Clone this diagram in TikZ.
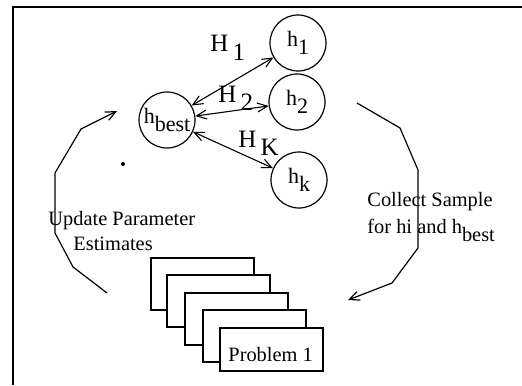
\documentclass[tikz,border=0pt]{standalone}
\usepackage{fontspec}
\setmainfont{Liberation Serif}
\usetikzlibrary{arrows.meta}
\newcommand\lowr[2]{\raisebox{-#1}{#2}}
\begin{document}
\begin{tikzpicture}[x=0.5pt,y=-0.5pt,
  circ/.style={circle,draw,minimum size=28pt,inner sep=0pt,line width=0.6pt,font=\fontsize{11}{13}\selectfont},
  txt/.style={inner sep=0pt,anchor=base west,font=\fontsize{10.2}{12.5}\selectfont},
  biglbl/.style={inner sep=0pt,anchor=base west,font=\fontsize{12.5}{14}\selectfont},
  page/.style={draw,fill=white,line width=0.7pt,inner sep=0pt,outer sep=0pt,anchor=north west,minimum width=51.5pt,minimum height=26pt},
  dbl/.style={line width=0.55pt,{Straight Barb[length=5pt,width=4.5pt]}-{Straight Barb[length=5pt,width=4.5pt]}},
  flow/.style={line width=0.6pt,-{Straight Barb[length=5pt,width=4.5pt]}},
  frame/.style={line width=0.9pt}
]
\useasboundingbox (0,0) rectangle (522,385);
% frame
\coordinate (fr1) at (522,7);
\coordinate (fr2) at (13,7);
\coordinate (fr3) at (13,385);
\draw[frame] (fr1) -- (fr2) -- (fr3);

% circles
\node[circ] (hbest) at (167,120) {h\lowr{0.4em}{best}};
\node[circ] (h1) at (298,43) {h\lowr{0.35em}{1}};
\node[circ] (h2) at (297,102) {h\lowr{0.35em}{2}};
\node[circ] (hk) at (299,180) {h\lowr{0.35em}{k}};

% double arrows
\draw[dbl] (hbest) -- (h1);
\draw[dbl] (hbest) -- (h2);
\draw[dbl] (hbest) -- (hk);

% arrow labels
\node[biglbl] (L1) at (210,52) {H\,\lowr{0.35em}{1}};
\node[biglbl] (L2) at (218,102) {H\,\lowr{0.35em}{2}};
\node[biglbl] (LK) at (238,147) {H\,\lowr{0.35em}{K}};

% small dot
\fill (123,164) circle (1pt);

% left loop arrow
\coordinate (a1) at (107,293);
\coordinate (a2) at (73,267);
\coordinate (a3) at (55,233);
\coordinate (a4) at (55,173);
\coordinate (a5) at (81,129);
\coordinate (a6) at (117,111);
\draw[flow] (a1) -- (a2) -- (a3) -- (a4) -- (a5) -- (a6);

% right loop arrow
\coordinate (b1) at (357,103);
\coordinate (b2) at (400,128);
\coordinate (b3) at (418,170);
\coordinate (b4) at (418,248);
\coordinate (b5) at (392,283);
\coordinate (b6) at (348,300);
\draw[flow] (b1) -- (b2) -- (b3) -- (b4) -- (b5) -- (b6);

% texts
\node[txt] (up1) at (48,225) {Update Parameter};
\node[txt] (up2) at (73,250) {Estimates};
\node[txt] (cs1) at (367,206) {Collect Sample};
\node[txt] (cs2) at (367,233) {for hi and h\lowr{0.4em}{best}};

% pages
\node[page] (p1) at (151,258) {};
\node[page] (p2) at (167,275) {};
\node[page] (p3) at (185,293) {};
\node[page] (p4) at (203,310) {};
\node[page,minimum height=21.5pt] (p5) at (220,328) {};
\node[txt] (prob) at (228,361) {Problem 1};
\end{tikzpicture}
\end{document}
